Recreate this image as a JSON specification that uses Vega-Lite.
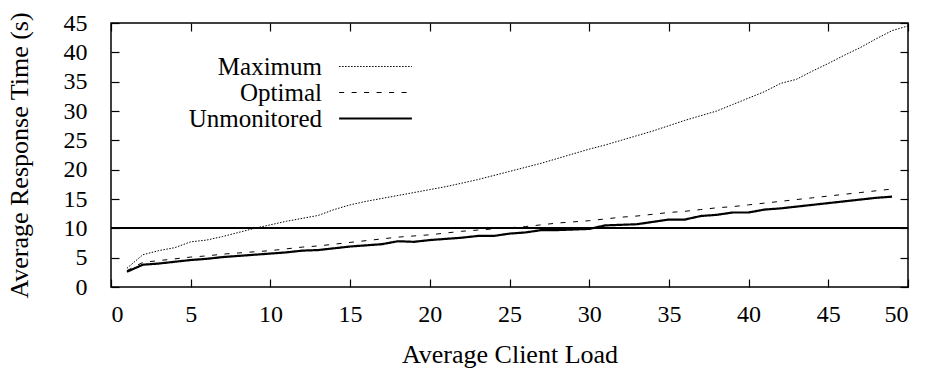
{
  "$schema": "https://vega.github.io/schema/vega-lite/v6.json",
  "width": 797,
  "height": 264,
  "autosize": {"type": "none"},
  "padding": {"left": 111, "top": 23, "right": 24, "bottom": 82},
  "background": "white",
  "config": {
    "font": "Liberation Serif, Times New Roman, serif",
    "view": {"stroke": "black", "strokeWidth": 1.5},
    "axis": {
      "grid": false,
      "domain": false,
      "tickColor": "black",
      "tickWidth": 1.2,
      "tickSize": -8,
      "labelColor": "black",
      "titleColor": "black",
      "labelFont": "Liberation Serif, Times New Roman, serif",
      "titleFont": "Liberation Serif, Times New Roman, serif",
      "labelFontSize": 24,
      "titleFontSize": 26,
      "titleFontWeight": "normal"
    }
  },
  "data": {
    "values": [
      {"load": 1, "series": "Maximum", "time": 3.2},
      {"load": 2, "series": "Maximum", "time": 5.5},
      {"load": 3, "series": "Maximum", "time": 6.2},
      {"load": 4, "series": "Maximum", "time": 6.7},
      {"load": 5, "series": "Maximum", "time": 7.7},
      {"load": 6, "series": "Maximum", "time": 8.0},
      {"load": 7, "series": "Maximum", "time": 8.6},
      {"load": 8, "series": "Maximum", "time": 9.3},
      {"load": 9, "series": "Maximum", "time": 10.0},
      {"load": 10, "series": "Maximum", "time": 10.6},
      {"load": 11, "series": "Maximum", "time": 11.2},
      {"load": 12, "series": "Maximum", "time": 11.7},
      {"load": 13, "series": "Maximum", "time": 12.2},
      {"load": 14, "series": "Maximum", "time": 13.2},
      {"load": 15, "series": "Maximum", "time": 14.0},
      {"load": 16, "series": "Maximum", "time": 14.6},
      {"load": 17, "series": "Maximum", "time": 15.1},
      {"load": 18, "series": "Maximum", "time": 15.6},
      {"load": 19, "series": "Maximum", "time": 16.1},
      {"load": 20, "series": "Maximum", "time": 16.6},
      {"load": 21, "series": "Maximum", "time": 17.1},
      {"load": 22, "series": "Maximum", "time": 17.7},
      {"load": 23, "series": "Maximum", "time": 18.3},
      {"load": 24, "series": "Maximum", "time": 19.0},
      {"load": 25, "series": "Maximum", "time": 19.7},
      {"load": 26, "series": "Maximum", "time": 20.4},
      {"load": 27, "series": "Maximum", "time": 21.1},
      {"load": 28, "series": "Maximum", "time": 21.9},
      {"load": 29, "series": "Maximum", "time": 22.7},
      {"load": 30, "series": "Maximum", "time": 23.5},
      {"load": 31, "series": "Maximum", "time": 24.2},
      {"load": 32, "series": "Maximum", "time": 25.0},
      {"load": 33, "series": "Maximum", "time": 25.8},
      {"load": 34, "series": "Maximum", "time": 26.6},
      {"load": 35, "series": "Maximum", "time": 27.5},
      {"load": 36, "series": "Maximum", "time": 28.4},
      {"load": 37, "series": "Maximum", "time": 29.2},
      {"load": 38, "series": "Maximum", "time": 30.0},
      {"load": 39, "series": "Maximum", "time": 31.1},
      {"load": 40, "series": "Maximum", "time": 32.2},
      {"load": 41, "series": "Maximum", "time": 33.3},
      {"load": 42, "series": "Maximum", "time": 34.7},
      {"load": 43, "series": "Maximum", "time": 35.4},
      {"load": 44, "series": "Maximum", "time": 36.8},
      {"load": 45, "series": "Maximum", "time": 38.1},
      {"load": 46, "series": "Maximum", "time": 39.5},
      {"load": 47, "series": "Maximum", "time": 40.8},
      {"load": 48, "series": "Maximum", "time": 42.3},
      {"load": 49, "series": "Maximum", "time": 43.7},
      {"load": 50, "series": "Maximum", "time": 44.5},
      {"load": 1, "series": "Optimal", "time": 2.8},
      {"load": 2, "series": "Optimal", "time": 4.2},
      {"load": 3, "series": "Optimal", "time": 4.5},
      {"load": 4, "series": "Optimal", "time": 4.8},
      {"load": 5, "series": "Optimal", "time": 5.1},
      {"load": 6, "series": "Optimal", "time": 5.3},
      {"load": 7, "series": "Optimal", "time": 5.6},
      {"load": 8, "series": "Optimal", "time": 5.8},
      {"load": 9, "series": "Optimal", "time": 6.0},
      {"load": 10, "series": "Optimal", "time": 6.2},
      {"load": 11, "series": "Optimal", "time": 6.5},
      {"load": 12, "series": "Optimal", "time": 6.8},
      {"load": 13, "series": "Optimal", "time": 7.0},
      {"load": 14, "series": "Optimal", "time": 7.3},
      {"load": 15, "series": "Optimal", "time": 7.6},
      {"load": 16, "series": "Optimal", "time": 7.9},
      {"load": 17, "series": "Optimal", "time": 8.2},
      {"load": 18, "series": "Optimal", "time": 8.5},
      {"load": 19, "series": "Optimal", "time": 8.7},
      {"load": 20, "series": "Optimal", "time": 8.9},
      {"load": 21, "series": "Optimal", "time": 9.2},
      {"load": 22, "series": "Optimal", "time": 9.5},
      {"load": 23, "series": "Optimal", "time": 9.7},
      {"load": 24, "series": "Optimal", "time": 9.9},
      {"load": 25, "series": "Optimal", "time": 10.1},
      {"load": 26, "series": "Optimal", "time": 10.3},
      {"load": 27, "series": "Optimal", "time": 10.6},
      {"load": 28, "series": "Optimal", "time": 10.9},
      {"load": 29, "series": "Optimal", "time": 11.1},
      {"load": 30, "series": "Optimal", "time": 11.3},
      {"load": 31, "series": "Optimal", "time": 11.6},
      {"load": 32, "series": "Optimal", "time": 11.9},
      {"load": 33, "series": "Optimal", "time": 12.1},
      {"load": 34, "series": "Optimal", "time": 12.4},
      {"load": 35, "series": "Optimal", "time": 12.7},
      {"load": 36, "series": "Optimal", "time": 12.9},
      {"load": 37, "series": "Optimal", "time": 13.2},
      {"load": 38, "series": "Optimal", "time": 13.5},
      {"load": 39, "series": "Optimal", "time": 13.7},
      {"load": 40, "series": "Optimal", "time": 14.0},
      {"load": 41, "series": "Optimal", "time": 14.3},
      {"load": 42, "series": "Optimal", "time": 14.6},
      {"load": 43, "series": "Optimal", "time": 14.9},
      {"load": 44, "series": "Optimal", "time": 15.2},
      {"load": 45, "series": "Optimal", "time": 15.5},
      {"load": 46, "series": "Optimal", "time": 15.8},
      {"load": 47, "series": "Optimal", "time": 16.1},
      {"load": 48, "series": "Optimal", "time": 16.4},
      {"load": 49, "series": "Optimal", "time": 16.7},
      {"load": 1, "series": "Unmonitored", "time": 2.6},
      {"load": 2, "series": "Unmonitored", "time": 3.8},
      {"load": 3, "series": "Unmonitored", "time": 4.0},
      {"load": 4, "series": "Unmonitored", "time": 4.3},
      {"load": 5, "series": "Unmonitored", "time": 4.6},
      {"load": 6, "series": "Unmonitored", "time": 4.8},
      {"load": 7, "series": "Unmonitored", "time": 5.1},
      {"load": 8, "series": "Unmonitored", "time": 5.3},
      {"load": 9, "series": "Unmonitored", "time": 5.5},
      {"load": 10, "series": "Unmonitored", "time": 5.7},
      {"load": 11, "series": "Unmonitored", "time": 5.9},
      {"load": 12, "series": "Unmonitored", "time": 6.2},
      {"load": 13, "series": "Unmonitored", "time": 6.3},
      {"load": 14, "series": "Unmonitored", "time": 6.6},
      {"load": 15, "series": "Unmonitored", "time": 6.9},
      {"load": 16, "series": "Unmonitored", "time": 7.1},
      {"load": 17, "series": "Unmonitored", "time": 7.3},
      {"load": 18, "series": "Unmonitored", "time": 7.8},
      {"load": 19, "series": "Unmonitored", "time": 7.7},
      {"load": 20, "series": "Unmonitored", "time": 8.0},
      {"load": 21, "series": "Unmonitored", "time": 8.2},
      {"load": 22, "series": "Unmonitored", "time": 8.4},
      {"load": 23, "series": "Unmonitored", "time": 8.7},
      {"load": 24, "series": "Unmonitored", "time": 8.7},
      {"load": 25, "series": "Unmonitored", "time": 9.1},
      {"load": 26, "series": "Unmonitored", "time": 9.3},
      {"load": 27, "series": "Unmonitored", "time": 9.7},
      {"load": 28, "series": "Unmonitored", "time": 9.7},
      {"load": 29, "series": "Unmonitored", "time": 9.8},
      {"load": 30, "series": "Unmonitored", "time": 9.9},
      {"load": 31, "series": "Unmonitored", "time": 10.5},
      {"load": 32, "series": "Unmonitored", "time": 10.6},
      {"load": 33, "series": "Unmonitored", "time": 10.7},
      {"load": 34, "series": "Unmonitored", "time": 11.1},
      {"load": 35, "series": "Unmonitored", "time": 11.5},
      {"load": 36, "series": "Unmonitored", "time": 11.5},
      {"load": 37, "series": "Unmonitored", "time": 12.1},
      {"load": 38, "series": "Unmonitored", "time": 12.3},
      {"load": 39, "series": "Unmonitored", "time": 12.7},
      {"load": 40, "series": "Unmonitored", "time": 12.7},
      {"load": 41, "series": "Unmonitored", "time": 13.2},
      {"load": 42, "series": "Unmonitored", "time": 13.4},
      {"load": 43, "series": "Unmonitored", "time": 13.7},
      {"load": 44, "series": "Unmonitored", "time": 14.0},
      {"load": 45, "series": "Unmonitored", "time": 14.3},
      {"load": 46, "series": "Unmonitored", "time": 14.6},
      {"load": 47, "series": "Unmonitored", "time": 14.9},
      {"load": 48, "series": "Unmonitored", "time": 15.2},
      {"load": 49, "series": "Unmonitored", "time": 15.4}
    ]
  },
  "layer": [
    {
      "mark": {"type": "rule", "color": "black", "strokeWidth": 1.5},
      "encoding": {
        "y": {"datum": 10, "type": "quantitative", "scale": {"domain": [0, 45], "nice": false}, "axis": null}
      }
    },
    {
      "mark": {"type": "line", "color": "black"},
      "encoding": {
        "x": {
          "field": "load", "type": "quantitative",
          "scale": {"domain": [0, 50], "nice": false},
          "axis": {"orient": "bottom", "values": [0, 5, 10, 15, 20, 25, 30, 35, 40, 45, 50], "labelPadding": 23, "title": "Average Client Load", "titlePadding": 15}
        },
        "y": {
          "field": "time", "type": "quantitative",
          "scale": {"domain": [0, 45], "nice": false},
          "axis": {"orient": "left", "values": [0, 5, 10, 15, 20, 25, 30, 35, 40, 45], "labelPadding": 32, "title": "Average Response Time (s)", "titlePadding": 31}
        },
        "strokeDash": {
          "field": "series", "type": "nominal",
          "scale": {"domain": ["Maximum", "Optimal", "Unmonitored"], "range": [[1.5, 1.5], [5, 7.5], [1, 0]]},
          "legend": {
            "orient": "none", "legendX": 138, "legendY": 31, "direction": "vertical",
            "title": null, "labelFontSize": 25, "labelFont": "Liberation Serif, Times New Roman, serif", "labelColor": "black",
            "labelAlign": "right", "labelOffset": -66,
            "symbolType": "M-2.8,0H2.8", "symbolSize": 676, "symbolOffset": 114,
            "symbolStrokeColor": "black", "symbolStrokeWidth": 1.2, "rowPadding": 0,
            "encode": {"symbols": {"update": {"strokeWidth": {"signal": "datum.value === 'Unmonitored' ? 2.2 : 1.2"}}}}
          }
        },
        "strokeWidth": {
          "condition": {"test": "datum.series === 'Unmonitored'", "value": 2.2},
          "value": 1
        }
      }
    },
    {
      "mark": {"type": "line", "opacity": 0},
      "encoding": {
        "x": {"field": "load", "type": "quantitative", "axis": {"orient": "top", "labels": false, "title": null, "values": [0, 5, 10, 15, 20, 25, 30, 35, 40, 45, 50]}},
        "y": {"field": "time", "type": "quantitative", "axis": {"orient": "right", "labels": false, "title": null, "values": [0, 5, 10, 15, 20, 25, 30, 35, 40, 45]}},
        "detail": {"field": "series"}
      }
    }
  ],
  "resolve": {"axis": {"x": "independent", "y": "independent"}}
}
